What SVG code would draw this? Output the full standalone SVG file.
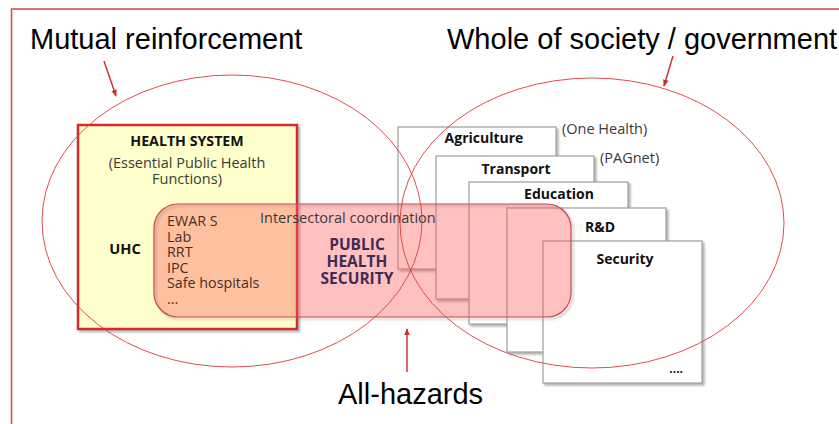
<svg xmlns="http://www.w3.org/2000/svg" width="839" height="424" viewBox="0 0 839 424">
<defs>
<filter id="sh" x="-10%" y="-10%" width="130%" height="130%">
<feDropShadow dx="2" dy="2" stdDeviation="1" flood-color="#808080" flood-opacity="0.6"/>
</filter>
<marker id="ah" viewBox="0 0 10 10" refX="9" refY="5" markerWidth="5" markerHeight="5" orient="auto-start-reverse">
<path d="M0,1 L10,5 L0,9 z" fill="#cc2b2b"/>
</marker>
</defs>
<style>
.title{font-family:"Liberation Sans",Arial,sans-serif;font-size:29px;fill:#000}
.sb{font-family:"Open Sans","DejaVu Sans",sans-serif;font-weight:bold;fill:#111}
.tx{font-family:"Open Sans","DejaVu Sans",sans-serif;fill:#3a3a3a}
.sector{fill:#fff;stroke:#a6a6a6;stroke-width:1.3}
.ell{fill:none;stroke:#dc3a3a;stroke-width:0.9}
.arr{stroke:#cc2b2b;stroke-width:1.4;fill:none}
</style>
<rect x="11.5" y="9" width="900" height="500" fill="#fff" stroke="#c85454" stroke-width="1.6"/>

<text class="title" x="30" y="49">Mutual reinforcement</text>
<text class="title" x="447" y="49">Whole of society / government</text>
<text class="title" x="338" y="404">All-hazards</text>

<g id="health-system">
<rect x="78" y="125" width="219" height="204" fill="#ffffcc" stroke="#d42a2a" stroke-width="2.5" filter="url(#sh)"/>
<text class="sb" x="187" y="146" font-size="14.2" text-anchor="middle">HEALTH SYSTEM</text>
<text class="tx" x="187" y="168" font-size="14.5" text-anchor="middle">(Essential Public Health</text>
<text class="tx" x="187" y="184" font-size="14.5" text-anchor="middle">Functions)</text>
<text class="sb" x="125" y="254" font-size="14.6" text-anchor="middle">UHC</text>
</g>

<g id="sector-agriculture">
<rect class="sector" x="398" y="127" width="158" height="142" filter="url(#sh)"/>
<text class="sb" x="484" y="143" font-size="14" text-anchor="middle">Agriculture</text>
</g>
<g id="sector-transport">
<rect class="sector" x="436" y="156" width="158" height="143" filter="url(#sh)"/>
<text class="sb" x="516" y="174" font-size="14" text-anchor="middle">Transport</text>
</g>
<g id="sector-education">
<rect class="sector" x="469" y="182" width="159" height="142" filter="url(#sh)"/>
<text class="sb" x="559" y="199" font-size="14" text-anchor="middle">Education</text>
</g>
<g id="sector-rd">
<rect class="sector" x="507" y="208" width="159" height="144" filter="url(#sh)"/>
<text class="sb" x="600" y="232" font-size="14" text-anchor="middle">R&amp;D</text>
</g>
<g id="sector-security">
<rect class="sector" x="543" y="241" width="159" height="142" filter="url(#sh)"/>
<text class="sb" x="625" y="264" font-size="14" text-anchor="middle">Security</text>
<text class="sb" x="683" y="373" font-size="12" text-anchor="end">....</text>
</g>
<text class="tx" x="562" y="134" font-size="14.5">(One Health)</text>
<text class="tx" x="600" y="163" font-size="14.5">(PAGnet)</text>

<g id="public-health-security">
<rect x="154" y="204" width="417" height="113" rx="24" ry="24" fill="rgb(255,90,90)" fill-opacity="0.38"/>
<rect x="154" y="204" width="417" height="113" rx="24" ry="24" fill="none" stroke="#c84848" stroke-width="1.2" filter="url(#sh)"/>
<text class="tx" x="260" y="223" font-size="14.5">Intersectoral coordination</text>
<g fill="#4a2e22" font-family="'Open Sans','DejaVu Sans',sans-serif" font-size="14.3">
<text x="167" y="226">EWAR S</text>
<text x="167" y="241.5">Lab</text>
<text x="167" y="257">RRT</text>
<text x="167" y="272.5">IPC</text>
<text x="167" y="288">Safe hospitals</text>
<text x="167" y="303.5">...</text>
</g>
<g font-family="'Open Sans','DejaVu Sans',sans-serif" font-weight="bold" font-size="15.5" fill="#3f2b57" text-anchor="middle">
<text x="357" y="250">PUBLIC</text>
<text x="357" y="267">HEALTH</text>
<text x="357" y="284">SECURITY</text>
</g>
</g>

<g id="ellipse-mutual">
<ellipse class="ell" cx="232" cy="221" rx="190" ry="146"/>
</g>
<g id="ellipse-whole">
<ellipse class="ell" cx="592" cy="223" rx="192" ry="145"/>
</g>

<g id="connectors">
<line class="arr" x1="104" y1="61" x2="116" y2="96" marker-end="url(#ah)"/>
<line class="arr" x1="673" y1="56" x2="664" y2="86" marker-end="url(#ah)"/>
<line class="arr" x1="407" y1="372" x2="407" y2="329" marker-end="url(#ah)"/>
</g>
</svg>
